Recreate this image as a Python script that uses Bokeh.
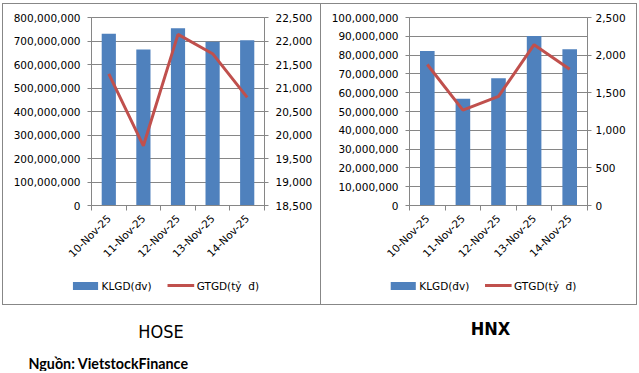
import math
from bokeh.plotting import figure
from bokeh.layouts import column, row
from bokeh.models import (Range1d, LinearAxis, FixedTicker, NumeralTickFormatter,
                          Label)
from bokeh.embed import file_html
from bokeh.resources import INLINE

dates = ["10-Nov-25", "11-Nov-25", "12-Nov-25", "13-Nov-25", "14-Nov-25"]

hose_vol = [731e6, 664e6, 754e6, 697e6, 703e6]
hose_val = [21300, 19770, 22140, 21730, 20800]
hnx_vol = [82.2e6, 56.8e6, 67.7e6, 90.2e6, 83.1e6]
hnx_val = [1875, 1268, 1451, 2138, 1813]

hose_left_ticks = [0, 100e6, 200e6, 300e6, 400e6, 500e6, 600e6, 700e6, 800e6]
hose_right_ticks = [18500, 19000, 19500, 20000, 20500, 21000, 21500, 22000, 22500]
hnx_left_ticks = [0, 10e6, 20e6, 30e6, 40e6, 50e6, 60e6, 70e6, 80e6, 90e6, 100e6]
hnx_right_ticks = [0, 500, 1000, 1500, 2000, 2500]

vol_label = "KLGD(đv)"
val_label = "GTGD(tỷ\u00a0 đ)"

BLUE = "#4F81BD"
RED = "#C0504D"
GRAY = "#868686"
FONT = "DejaVu Sans"
FS = "10.5px"
BD = "1px solid #878787"
CH = 262   # chart part height (incl. top border)
LH = 40    # legend part height (incl. bottom border)


def panel(vol, val, lt, rt, width, mbr, rstand, left_border):
    n = len(dates)
    xs = [i + 0.5 for i in range(n)]
    p = figure(width=width, height=CH, output_backend="svg", toolbar_location=None,
               x_range=Range1d(0, n), y_range=Range1d(lt[0], lt[-1]),
               min_border_left=88, min_border_right=mbr, min_border_top=13,
               min_border_bottom=61, tools="")
    st = {"border-top": BD, "border-right": BD}
    if left_border:
        st["border-left"] = BD
    p.styles = st
    p.extra_y_ranges = {"r": Range1d(rt[0], rt[-1])}
    p.outline_line_color = GRAY
    p.xgrid.visible = False
    p.ygrid.grid_line_color = GRAY
    p.ygrid.ticker = FixedTicker(ticks=lt)

    p.vbar(x=xs, top=vol, width=0.41, color=BLUE, line_color=None)
    p.line(x=xs, y=val, y_range_name="r", line_color=RED, line_width=3)

    xa = p.xaxis[0]
    xa.ticker = FixedTicker(ticks=xs, minor_ticks=list(range(n + 1)))
    xa.major_label_overrides = {x: d for x, d in zip(xs, dates)}
    xa.major_label_orientation = math.pi / 4
    xa.major_tick_out = 0
    xa.major_tick_in = 0
    xa.minor_tick_out = 5
    xa.minor_tick_in = 0
    xa.minor_tick_line_color = GRAY
    xa.axis_line_color = GRAY
    xa.major_label_text_font = FONT
    xa.major_label_text_font_size = FS
    xa.major_label_text_color = "#000000"
    xa.major_label_standoff = 6

    ya = p.yaxis[0]
    ya.ticker = FixedTicker(ticks=lt)
    ya.formatter = NumeralTickFormatter(format="0,0")
    ya.major_tick_out = 4
    ya.major_tick_in = 0
    ya.minor_tick_out = 0
    ya.minor_tick_in = 0
    ya.major_tick_line_color = GRAY
    ya.axis_line_color = GRAY
    ya.major_label_text_font = FONT
    ya.major_label_text_font_size = FS
    ya.major_label_text_color = "#000000"
    ya.major_label_standoff = 7

    ra = LinearAxis(y_range_name="r", ticker=FixedTicker(ticks=rt),
                    formatter=NumeralTickFormatter(format="0,0"))
    ra.major_tick_out = 4
    ra.major_tick_in = 0
    ra.minor_tick_out = 0
    ra.minor_tick_in = 0
    ra.major_tick_line_color = GRAY
    ra.axis_line_color = GRAY
    ra.major_label_text_font = FONT
    ra.major_label_text_font_size = FS
    ra.major_label_text_color = "#000000"
    ra.major_label_standoff = rstand
    p.add_layout(ra, "right")

    # legend strip (pixel coordinates)
    cw = width - (2 if left_border else 1)
    chh = LH - 1
    lg = figure(width=width, height=LH, output_backend="svg", toolbar_location=None,
                x_range=Range1d(0, cw), y_range=Range1d(chh, 0),
                min_border=0, tools="")
    lg.frame_align = False
    lst = {"border-bottom": BD, "border-right": BD}
    if left_border:
        lst["border-left"] = BD
    lg.styles = lst
    lg.axis.visible = False
    lg.grid.visible = False
    lg.outline_line_color = None
    lg.quad(left=[69], right=[94], top=[16], bottom=[24], color=BLUE, line_color=None)
    lg.segment(x0=[163], x1=[189.5], y0=[19.5], y1=[19.5], line_color=RED, line_width=3)
    lg.add_layout(Label(x=97.5, y=20, text=vol_label, text_font=FONT,
                        text_font_size=FS, text_baseline="middle",
                        text_color="#000000"))
    lg.add_layout(Label(x=192, y=20, text=val_label, text_font=FONT,
                        text_font_size=FS, text_baseline="middle",
                        text_color="#000000"))
    return column(p, lg, spacing=0)


c1 = panel(hose_vol, hose_val, hose_left_ticks, hose_right_ticks, 319, 58, 7, True)
c2 = panel(hnx_vol, hnx_val, hnx_left_ticks, hnx_right_ticks, 316, 50, 4, False)

FH = 66
foot = figure(width=634, height=FH, output_backend="svg", toolbar_location=None,
              x_range=Range1d(0, 634), y_range=Range1d(FH, 0), min_border=0,
              tools="")
foot.frame_align = False
foot.axis.visible = False
foot.grid.visible = False
foot.outline_line_color = None
TF = "'DejaVu Sans Condensed', 'Liberation Sans', sans-serif"
foot.add_layout(Label(x=158.5, y=26, text="HOSE", text_align="center",
                      text_baseline="alphabetic", text_font=TF,
                      text_font_size="18px", text_color="#000000"))
foot.add_layout(Label(x=488, y=23, text="HNX", text_align="center",
                      text_baseline="alphabetic", text_font=TF,
                      text_font_size="18px", text_font_style="bold",
                      text_color="#000000"))
foot.add_layout(Label(x=26, y=58, text="Nguồn: VietstockFinance", text_align="left",
                      text_baseline="alphabetic", text_font="Lato",
                      text_font_size="14.3px", text_font_style="bold",
                      text_color="#000000"))

layout = column(row(c1, c2, spacing=0), foot, spacing=0)
layout.styles = {"margin-left": "2px", "margin-top": "3px"}

open("out.html", "w").write(file_html(layout, INLINE))
